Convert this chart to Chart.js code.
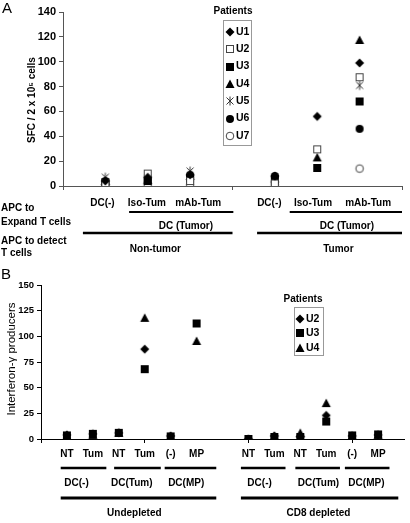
<!DOCTYPE html>
<html>
<head>
<meta charset="utf-8">
<script src="https://cdn.jsdelivr.net/npm/chart.js@4.4.0/dist/chart.umd.min.js"></script>
<style>
  body { margin: 0; background: #fff; }
  #wrap { position: relative; width: 410px; height: 523px; }
  .panel { position: absolute; left: 0; width: 410px; }
</style>
</head>
<body>
<div id="wrap">
  <div class="panel" style="top:0;height:262px"><canvas id="chartA"></canvas></div>
  <div class="panel" style="top:262px;height:261px"><canvas id="chartB"></canvas></div>
</div>
<script>
// Panel A data
const xA = [1, 2, 3, 5, 6, 7];
const categoriesA = ['DC(-)', 'Iso-Tum', 'mAb-Tum', 'DC(-)', 'Iso-Tum', 'mAb-Tum'];
const categoryAtA = [0.93, 1.98, 3.19, 4.87, 5.9, 7.2];
const patientsA = ['U1', 'U2', 'U3', 'U4', 'U5', 'U6', 'U7'];
const u1A = [4, 7, 9, 8, 56, 99];
const u2A = [2, 10, 4, 2, 29.5, 87.5];
const u3A = [3, 4, 6, 5, 14.5, 68];
const u4A = [4, 5, 8, 6, 23, 117.5];
const u5A = [7, 6, 12, 7, null, 81];
const u6A = [4, 5, 9, 8, null, 46];
const u7A = [1, 1, 1, 1, null, 14];

// Panel B data
const xB = [1, 2, 3, 4, 5, 6, 8, 9, 10, 11, 12, 13];
const tickLabelsB = ['', 'NT', 'Tum', 'NT', 'Tum', '(-)', 'MP', '', 'NT', 'Tum', 'NT', 'Tum', '(-)', 'MP', ''];
const patientsB = ['U2', 'U3', 'U4'];
const u2B = [4, 5, 6, 87.5, 3, null, 0, 3, 2, 23, 3, 4];
const u3B = [3.5, 5, 6, 68, 2.5, 112.5, 0, 2, 2, 17, 3.5, 4.5];
const u4B = [3, 4, 6, 118, 2, 95.5, 0, 2.5, 6, 35, 3, 4];

const FONT = '"Liberation Sans", Arial, sans-serif';

function marker(kind) {
  const c = document.createElement('canvas');
  c.width = 12; c.height = 12;
  const g = c.getContext('2d');
  g.fillStyle = '#000'; g.strokeStyle = '#000'; g.lineWidth = 1;
  g.beginPath();
  if (kind === 'diamond') {
    g.moveTo(6, 1.5); g.lineTo(10.5, 6); g.lineTo(6, 10.5); g.lineTo(1.5, 6); g.closePath(); g.fill();
  } else if (kind === 'openSquare') {
    g.fillStyle = '#fff'; g.fillRect(2.5, 2.5, 7, 7); g.strokeStyle = '#444'; g.strokeRect(2.5, 2.5, 7, 7);
  } else if (kind === 'square') {
    g.fillRect(2, 2, 8, 8);
  } else if (kind === 'triangle') {
    g.moveTo(6, 1.5); g.lineTo(10.5, 10); g.lineTo(1.5, 10); g.closePath(); g.fill();
  } else if (kind === 'asterisk') {
    g.strokeStyle = '#333';
    g.moveTo(2.5, 2.5); g.lineTo(9.5, 9.5);
    g.moveTo(9.5, 2.5); g.lineTo(2.5, 9.5);
    g.moveTo(6, 1.5); g.lineTo(6, 10.5);
    g.stroke();
  } else if (kind === 'circle') {
    g.arc(6, 6, 4, 0, Math.PI * 2); g.fill();
  } else if (kind === 'openCircle') {
    g.fillStyle = '#fff'; g.arc(6, 6, 3.8, 0, Math.PI * 2); g.fill(); g.strokeStyle = '#444'; g.stroke();
  }
  return c;
}

const mk = {
  diamond: marker('diamond'), openSquare: marker('openSquare'), square: marker('square'),
  triangle: marker('triangle'), asterisk: marker('asterisk'), circle: marker('circle'),
  openCircle: marker('openCircle')
};

function series(label, xs, ys, style) {
  return {
    label: label,
    data: xs.map((x, i) => ({ x: x, y: ys[i] })).filter(p => p.y !== null),
    pointStyle: style,
    pointRadius: 5,
    showLine: false
  };
}

// draws the group rows under the axis, the side labels, the legend box and titles
const notesPlugin = {
  id: 'notes',
  afterDraw(chart, args, o) {
    const ctx = chart.ctx;
    const sx = chart.scales.x;
    ctx.save();
    ctx.fillStyle = '#000';
    ctx.strokeStyle = '#000';
    o.lines.forEach(l => {
      ctx.lineWidth = l.w;
      ctx.beginPath();
      ctx.moveTo(sx.getPixelForValue(l.from), l.y);
      ctx.lineTo(sx.getPixelForValue(l.to), l.y);
      ctx.stroke();
    });
    ctx.textBaseline = 'middle';
    ctx.textAlign = 'center';
    ctx.font = 'bold 10px ' + FONT;
    o.labels.forEach(t => ctx.fillText(t.text, sx.getPixelForValue(t.at), t.y));
    ctx.textAlign = 'left';
    o.side.forEach(t => ctx.fillText(t.text, 1, t.y));

    ctx.font = '15px ' + FONT;
    ctx.fillText(o.panel.text, o.panel.x, o.panel.y);

    ctx.save();
    ctx.translate(o.yTitle.x, o.yTitle.y);
    ctx.rotate(-Math.PI / 2);
    ctx.textAlign = 'center';
    ctx.font = o.yTitle.font + ' ' + FONT;
    ctx.fillText(o.yTitle.text, 0, 0);
    ctx.restore();

    const lg = o.legend;
    ctx.textAlign = 'center';
    ctx.font = 'bold 10px ' + FONT;
    ctx.fillText('Patients', lg.titleX, lg.titleY);
    ctx.strokeStyle = '#999';
    ctx.lineWidth = 1;
    ctx.strokeRect(lg.box[0] + 0.5, lg.box[1] + 0.5, lg.box[2], lg.box[3]);
    ctx.textAlign = 'left';
    ctx.font = 'bold 10.5px ' + FONT;
    chart.data.datasets.forEach((ds, i) => {
      const y = lg.rowY + i * lg.rowH;
      ctx.drawImage(ds.pointStyle, lg.markX - 6, Math.round(y) - 6);
      ctx.fillText(ds.label, lg.textX, y);
    });
    ctx.restore();
  }
};

function axes(o) {
  return {
    x: {
      type: 'linear', min: 0, max: o.xMax,
      afterBuildTicks: s => { s.ticks = o.tickLabels.map((t, i) => ({ value: i })); },
      ticks: {
        autoSkip: false, maxRotation: 0, padding: o.xPad, color: '#000',
        font: { family: FONT, size: 10, weight: 'bold' },
        callback: v => o.tickLabels[v]
      },
      grid: {
        drawOnChartArea: false, tickLength: 4,
        tickColor: c => (c.tick && c.tick.value % 4 === 0 ? o.axisColor : 'rgba(0,0,0,0)')
      },
      border: { color: o.axisColor, width: 1 },
      afterFit: s => { s.height = o.xHeight; }
    },
    y: {
      min: 0, max: o.yMax,
      ticks: {
        stepSize: o.yStep, padding: 3, color: '#000',
        font: { family: FONT, size: o.yFont, weight: 'bold' }
      },
      grid: { drawOnChartArea: false, tickLength: 4, tickColor: o.axisColor },
      border: { color: o.axisColor, width: 1 },
      afterFit: s => { s.width = o.yWidth; }
    }
  };
}

new Chart(document.getElementById('chartA'), {
  type: 'scatter',
  data: {
    datasets: [
      series(patientsA[0], xA, u1A, mk.diamond),
      series(patientsA[1], xA, u2A, mk.openSquare),
      series(patientsA[2], xA, u3A, mk.square),
      series(patientsA[3], xA, u4A, mk.triangle),
      series(patientsA[4], xA, u5A, mk.asterisk),
      series(patientsA[5], xA, u6A, mk.circle),
      series(patientsA[6], xA, u7A, mk.openCircle)
    ]
  },
  options: {
    responsive: true, maintainAspectRatio: false, animation: false,
    layout: { padding: { top: 12, right: 2, left: 0, bottom: 0 } },
    scales: axes({ xMax: 8, tickLabels: ['', '', '', '', '', '', '', '', ''], xPad: 8, xHeight: 76,
                   yMax: 140, yStep: 20, yFont: 11, yWidth: 63, axisColor: '#555' }),
    plugins: {
      legend: { display: false },
      tooltip: { enabled: false },
      notes: {
        lines: [
          { from: 1.56, to: 4.02, y: 212, w: 2 }, { from: 5.35, to: 8, y: 212, w: 2 },
          { from: 0.47, to: 4, y: 233, w: 2.5 }, { from: 4.58, to: 8, y: 233, w: 2.5 }
        ],
        labels: categoriesA.map((c, i) => ({ at: categoryAtA[i], y: 203, text: c })).concat([
          { at: 2.9, y: 226, text: 'DC (Tumor)' }, { at: 6.7, y: 226, text: 'DC (Tumor)' },
          { at: 2.18, y: 249, text: 'Non-tumor' }, { at: 6.5, y: 249, text: 'Tumor' }
        ]),
        side: [
          { y: 208, text: 'APC to' }, { y: 222, text: 'Expand T cells' },
          { y: 241, text: 'APC to detect' }, { y: 253, text: 'T cells' }
        ],
        panel: { text: 'A', x: 2, y: 9 },
        yTitle: { text: 'SFC / 2 x 10\u2075 cells', x: 32, y: 100, font: 'bold 10px' },
        legend: { titleX: 233, titleY: 11, box: [223, 20, 28, 125], rowY: 32, rowH: 17.3, markX: 230, textX: 236 }
      }
    }
  },
  plugins: [notesPlugin]
});

new Chart(document.getElementById('chartB'), {
  type: 'scatter',
  data: {
    datasets: [
      series(patientsB[0], xB, u2B, mk.diamond),
      series(patientsB[1], xB, u3B, mk.square),
      series(patientsB[2], xB, u4B, mk.triangle)
    ]
  },
  options: {
    responsive: true, maintainAspectRatio: false, animation: false,
    layout: { padding: { top: 23, right: 2, left: 0, bottom: 0 } },
    scales: axes({ xMax: 14, tickLabels: tickLabelsB, xPad: 5, xHeight: 84, yMax: 150, yStep: 25,
                   yFont: 9.5, yWidth: 41, axisColor: '#000' }),
    plugins: {
      legend: { display: false },
      tooltip: { enabled: false },
      notes: {
        lines: [
          { from: 0.76, to: 2.52, y: 206, w: 2.5 }, { from: 2.82, to: 4.62, y: 206, w: 2.5 },
          { from: 4.77, to: 6.76, y: 206, w: 2.5 }, { from: 7.71, to: 9.43, y: 206, w: 2.5 },
          { from: 9.81, to: 11.53, y: 206, w: 2.5 }, { from: 11.72, to: 13.44, y: 206, w: 2.5 },
          { from: 0.76, to: 6.76, y: 236, w: 3 }, { from: 7.71, to: 13.78, y: 236, w: 3 }
        ],
        labels: [
          { at: 1.37, y: 221, text: 'DC(-)' }, { at: 3.5, y: 221, text: 'DC(Tum)' },
          { at: 5.6, y: 221, text: 'DC(MP)' }, { at: 8.43, y: 221, text: 'DC(-)' },
          { at: 10.7, y: 221, text: 'DC(Tum)' }, { at: 12.55, y: 221, text: 'DC(MP)' },
          { at: 3.6, y: 251, text: 'Undepleted' }, { at: 10.7, y: 251, text: 'CD8 depleted' }
        ],
        side: [],
        panel: { text: 'B', x: 1, y: 13 },
        yTitle: { text: 'Interferon-\u03b3 producers', x: 12, y: 97, font: '11.5px' },
        legend: { titleX: 303, titleY: 37, box: [294, 45, 29, 48], rowY: 56.7, rowH: 14.7, markX: 300, textX: 306 }
      }
    }
  },
  plugins: [notesPlugin]
});
</script>
</body>
</html>
